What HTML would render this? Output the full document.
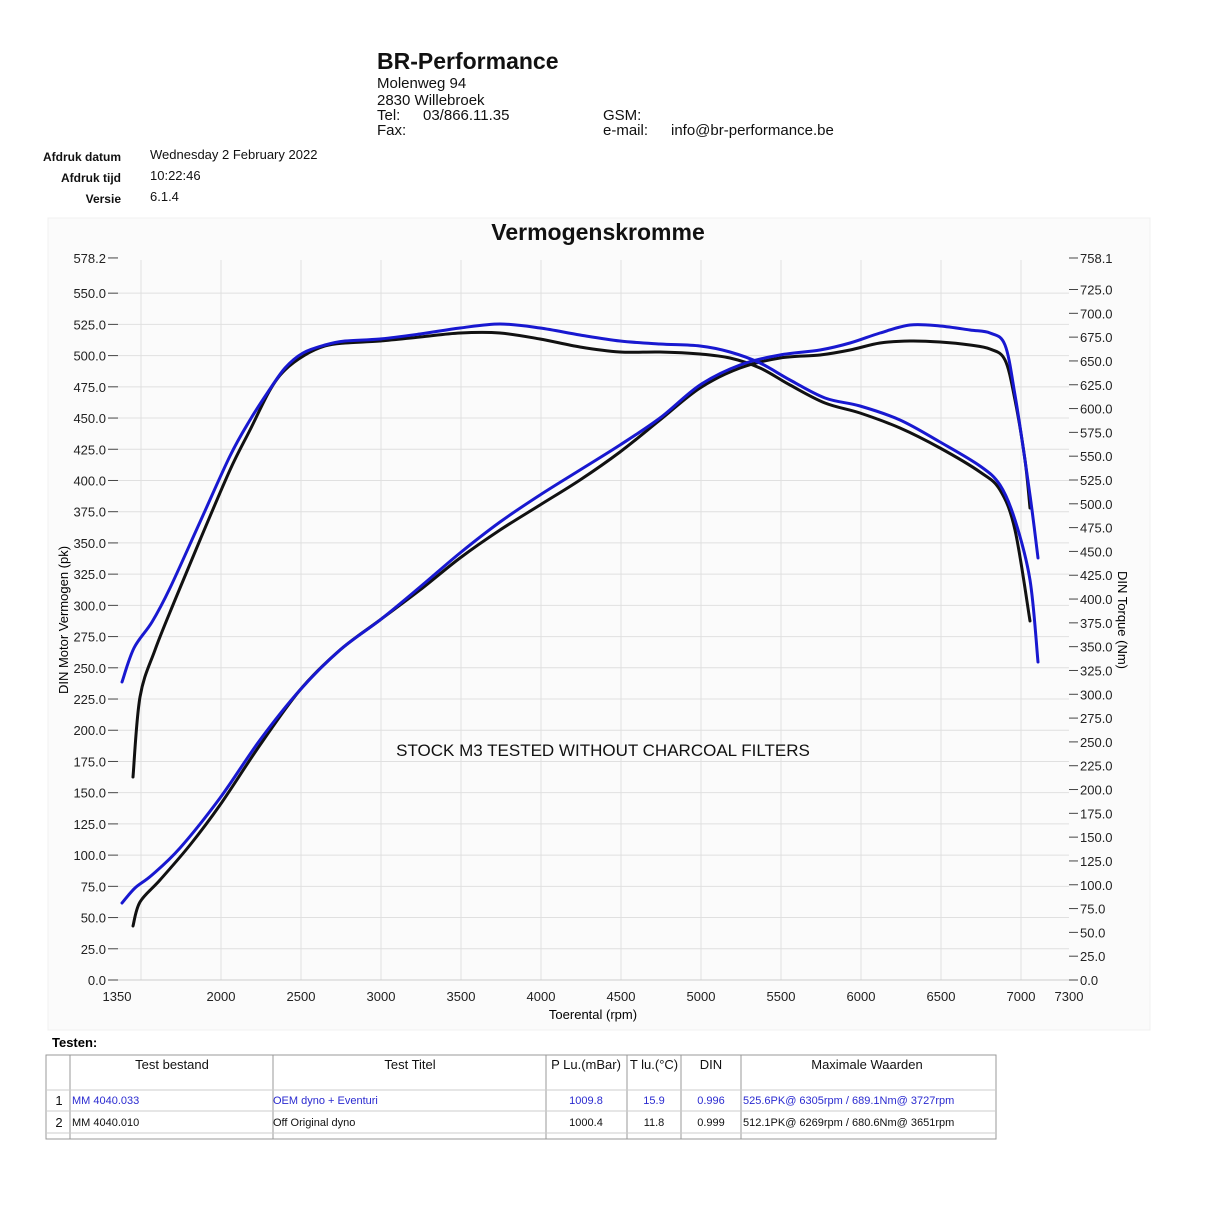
<!DOCTYPE html>
<html><head><meta charset="utf-8"><style>
body{margin:0;background:#fff;width:1206px;height:1206px;overflow:hidden}
svg{display:block;font-family:"Liberation Sans",Arial,sans-serif}
</style></head><body>
<svg id="s" width="1206" height="1206" viewBox="0 0 1206 1206">
<rect x="48" y="218" width="1102" height="812" fill="#fbfbfb" stroke="#f0f0f0"/>
<text x="377" y="69" font-size="23" font-weight="bold" fill="#111">BR-Performance</text>
<g font-size="15" fill="#111">
<text x="377" y="88">Molenweg 94</text>
<text x="377" y="105">2830 Willebroek</text>
<text x="377" y="120">Tel:</text><text x="423" y="120">03/866.11.35</text>
<text x="377" y="135">Fax:</text>
<text x="603" y="120">GSM:</text>
<text x="603" y="135">e-mail:</text>
<text x="671" y="135">info@br-performance.be</text>
</g>
<g font-size="12" font-weight="bold" fill="#111" text-anchor="end">
<text x="121" y="161">Afdruk datum</text>
<text x="121" y="182">Afdruk tijd</text>
<text x="121" y="203">Versie</text>
</g>
<g font-size="13" fill="#111">
<text x="150" y="159">Wednesday 2 February 2022</text>
<text x="150" y="180">10:22:46</text>
<text x="150" y="201">6.1.4</text>
</g>
<text x="598" y="240" font-size="23" font-weight="bold" text-anchor="middle" fill="#111">Vermogenskromme</text>
<g id="grid" stroke="#e0e0e0" stroke-width="1"></g>
<g id="ticks" font-size="13" fill="#222"></g>
<text x="593" y="1019" font-size="13" text-anchor="middle">Toerental (rpm)</text>
<text transform="translate(68,620) rotate(-90)" font-size="13" text-anchor="middle">DIN Motor Vermogen (pk)</text>
<text transform="translate(1118,620) rotate(90)" font-size="13" text-anchor="middle">DIN Torque (Nm)</text>
<text x="603" y="756" font-size="17" text-anchor="middle" fill="#111">STOCK M3 TESTED WITHOUT CHARCOAL FILTERS</text>
<g id="curves" fill="none" stroke-width="3" stroke-linejoin="round" stroke-linecap="round"></g>
<text x="52" y="1047" font-size="13" font-weight="bold">Testen:</text>
<g stroke="#999" fill="none">
<rect x="46" y="1055" width="950" height="84"/>
<line x1="70" y1="1055" x2="70" y2="1139"/>
<line x1="273" y1="1055" x2="273" y2="1139"/>
<line x1="546" y1="1055" x2="546" y2="1139"/>
<line x1="627" y1="1055" x2="627" y2="1139"/>
<line x1="681" y1="1055" x2="681" y2="1139"/>
<line x1="741" y1="1055" x2="741" y2="1139"/>
<line x1="46" y1="1090" x2="996" y2="1090" stroke="#ccc"/>
<line x1="46" y1="1111" x2="996" y2="1111" stroke="#ccc"/>
<line x1="46" y1="1133" x2="996" y2="1133" stroke="#ccc"/>
</g>
<g font-size="13" text-anchor="middle" fill="#111">
<text x="172" y="1069">Test bestand</text><text x="410" y="1069">Test Titel</text>
<text x="586" y="1069">P Lu.(mBar)</text><text x="654" y="1069">T lu.(°C)</text>
<text x="711" y="1069">DIN</text><text x="867" y="1069">Maximale Waarden</text>
<text x="59" y="1105">1</text><text x="59" y="1127">2</text>
</g>
<g font-size="11" fill="#2a2ad0">
<text x="72" y="1104">MM 4040.033</text><text x="273" y="1104">OEM dyno + Eventuri</text>
<text x="586" y="1104" text-anchor="middle">1009.8</text><text x="654" y="1104" text-anchor="middle">15.9</text>
<text x="711" y="1104" text-anchor="middle">0.996</text><text x="743" y="1104">525.6PK@ 6305rpm / 689.1Nm@ 3727rpm</text>
</g>
<g font-size="11" fill="#111">
<text x="72" y="1126">MM 4040.010</text><text x="273" y="1126">Off Original dyno</text>
<text x="586" y="1126" text-anchor="middle">1000.4</text><text x="654" y="1126" text-anchor="middle">11.8</text>
<text x="711" y="1126" text-anchor="middle">0.999</text><text x="743" y="1126">512.1PK@ 6269rpm / 680.6Nm@ 3651rpm</text>
</g>
</svg>
<script>
var NS="http://www.w3.org/2000/svg",g=document.getElementById("grid"),t=document.getElementById("ticks"),cv=document.getElementById("curves");
function el(p,n,a,txt){var e=document.createElementNS(NS,n);for(var k in a)e.setAttribute(k,a[k]);if(txt!=null)e.textContent=txt;p.appendChild(e);}
function X(r){return 117+(r-1350)*0.16;}
for(var r=1500;r<=7000;r+=500)el(g,"line",{x1:X(r),y1:260,x2:X(r),y2:980});
var L=[578.2];for(var v=550;v>=0;v-=25)L.push(v);
L.forEach(function(v){var y=980-v*1.2488;if(v<578)el(g,"line",{x1:118,y1:y,x2:1069,y2:y});
el(t,"line",{x1:108,y1:y,x2:118,y2:y,stroke:"#444"});el(t,"text",{x:106,y:y+5,"text-anchor":"end"},v.toFixed(1));});
var R=[758.1];for(var v=725;v>=0;v-=25)R.push(v);
R.forEach(function(v){var y=980-v*0.9524;el(t,"line",{x1:1069,y1:y,x2:1078,y2:y,stroke:"#444"});el(t,"text",{x:1080,y:y+5},v.toFixed(1));});
[1350,2000,2500,3000,3500,4000,4500,5000,5500,6000,6500,7000,7300].forEach(function(r){el(t,"text",{x:X(r),y:1001,"text-anchor":"middle"},r);});
el(t,"line",{x1:118,y1:980,x2:1069,y2:980,stroke:"#ccc"});
function smooth(s){var a=s.trim().split(/\s+/).map(function(p){return p.split(",").map(Number);});
var d="M"+a[0][0]+","+a[0][1];for(var i=0;i<a.length-1;i++){var p0=a[Math.max(0,i-1)],p1=a[i],p2=a[i+1],p3=a[Math.min(a.length-1,i+2)];
d+=" C"+(p1[0]+(p2[0]-p0[0])/6)+","+(p1[1]+(p2[1]-p0[1])/6)+" "+(p2[0]-(p3[0]-p1[0])/6)+","+(p2[1]-(p3[1]-p1[1])/6)+" "+p2[0]+","+p2[1];}return d;}
var C=[["#111","133,777 140,697 155,650 175,600 200,540 230,470 250,430 270,390 285,370 305,355 325,346 345,343 380,341 420,337 460,333 500,333 540,339 580,347 620,352 660,352 700,354 730,358 760,368 790,385 825,403 860,413 900,428 940,448 980,472 1000,490 1015,530 1030,621"],
["#111","133,926 140,902 160,880 190,845 220,805 260,745 300,690 340,650 380,620 420,590 460,558 500,530 540,505 580,480 620,452 660,420 700,388 740,368 780,358 820,355 850,350 880,343 910,341 940,342 970,345 990,349 1005,360 1015,400 1025,460 1030,508"],
["#1818d0","122,682 134,648 152,622 170,588 200,522 230,456 250,420 268,392 285,368 303,353 325,345 345,341 380,339 420,334 460,328 500,324 540,328 580,335 620,341 660,344 700,346 730,352 760,363 790,380 825,398 860,406 900,420 940,442 980,466 1000,485 1015,520 1030,580 1038,662"],
["#1818d0","122,903 135,888 152,875 180,848 220,798 260,740 300,690 340,650 380,620 420,587 460,553 500,522 540,495 580,470 620,445 660,418 700,385 740,365 780,355 820,350 850,343 880,333 910,325 940,326 970,330 990,333 1005,345 1015,395 1025,460 1032,510 1038,558"]];
C.forEach(function(c){el(cv,"path",{d:smooth(c[1]),stroke:c[0]});});
</script>
</body></html>
